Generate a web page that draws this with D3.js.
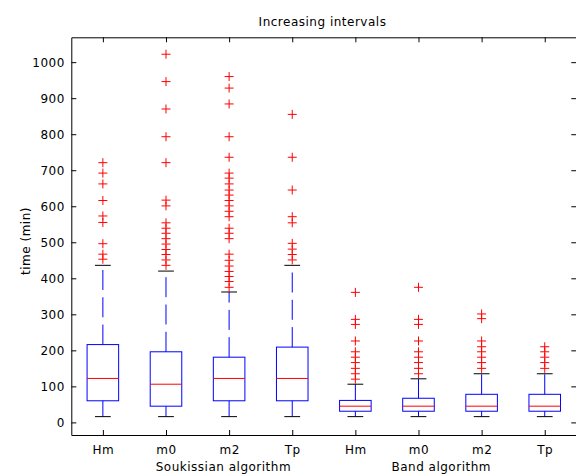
<!DOCTYPE html>
<html>
<head>
<meta charset="utf-8">
<script src="https://cdn.jsdelivr.net/npm/d3@7"></script>
<style>
  body { margin: 0; background: #fff; }
  svg { display: block; }
  text { font-family: "DejaVu Sans", sans-serif; font-size: 12px; letter-spacing: 0.5px; fill: #000; }
</style>
</head>
<body>
<svg id="chart" width="576" height="474"></svg>
<script>
// Box statistics per variable (minutes); first four from the Soukissian algorithm, last four from the Band algorithm
const categories = ["Hm", "m0", "m2", "Tp", "Hm", "m0", "m2", "Tp"];
const groupLabels = ["Soukissian algorithm", "Band algorithm"];
const lowerWhisker = [16, 16, 16, 16, 16, 16, 16, 16];
const q1 = [60, 45, 60, 60, 31, 31, 31, 31];
const medians = [122, 106, 122, 122, 45, 45, 45, 45];
const q3 = [216, 196, 181, 209, 61, 67, 78, 78];
const upperWhisker = [436, 420, 362, 436, 106, 121, 135, 135];

const outliersSkHm = [721, 692, 662, 616, 573, 555, 496, 467, 453];
const outliersSkM0 = [1022, 946, 870, 793, 721, 617, 601, 554, 539, 525, 510, 495, 480, 466, 451, 436];
const outliersSkM2 = [960, 928, 884, 793, 736, 692, 678, 662, 645, 631, 616, 601, 586, 571, 539, 525, 510, 467, 450, 434, 419, 405, 391, 375];
const outliersSkTp = [855, 736, 645, 571, 554, 497, 481, 466, 451];
const outliersBaHm = [361, 286, 272, 226, 196, 181, 166, 150, 135, 120];
const outliersBaM0 = [375, 286, 272, 226, 196, 181, 166, 150, 135];
const outliersBaM2 = [301, 288, 226, 210, 196, 181, 166, 150];
const outliersBaTp = [210, 196, 181, 166, 150];
const outliers = [outliersSkHm, outliersSkM0, outliersSkM2, outliersSkTp,
                  outliersBaHm, outliersBaM0, outliersBaM2, outliersBaTp];

const yTicks = [0, 100, 200, 300, 400, 500, 600, 700, 800, 900, 1000];

const svg = d3.select("#chart");
const plotLeft = 71.3, plotRight = 576.3, plotTop = 37.3, plotBottom = 435;
const x = d3.scaleLinear().domain([0.5, 8.5]).range([plotLeft, plotRight]);
const y = d3.scaleLinear().domain([-35, 1069]).range([plotBottom, plotTop]);
const positions = categories.map((_, i) => i + 1);

const BLUE = "#0000ff", RED = "#ff0000", INK = "#000";

// Frame with inward ticks on all four sides
function styleAxis(g) {
  g.attr("font-family", null).attr("font-size", null);
  g.selectAll(".domain").attr("stroke", INK);
  g.selectAll(".tick line").attr("stroke", INK);
  g.selectAll(".tick text").attr("fill", INK);
}
svg.append("g").attr("transform", `translate(${plotLeft},0)`)
  .call(d3.axisLeft(y).tickValues(yTicks).tickSize(-5).tickSizeOuter(0).tickPadding(6.5)
    .tickFormat(d3.format("d")))
  .call(styleAxis);
svg.append("g").attr("transform", `translate(${plotRight},0)`)
  .call(d3.axisRight(y).tickValues(yTicks).tickSize(-5).tickSizeOuter(0).tickFormat(""))
  .call(styleAxis);
svg.append("g").attr("transform", `translate(0,${plotBottom})`)
  .call(d3.axisBottom(x).tickValues(positions).tickSize(-5).tickSizeOuter(0).tickPadding(10)
    .tickFormat(d => categories[d - 1]))
  .call(styleAxis);
svg.append("g").attr("transform", `translate(0,${plotTop})`)
  .call(d3.axisTop(x).tickValues(positions).tickSize(-5).tickSizeOuter(0).tickFormat(""))
  .call(styleAxis);

// Boxes, whiskers and outliers
const boxes = svg.append("g").attr("fill", "none");
positions.forEach((p, i) => {
  const cx = x(p);
  const half = x(p + 0.25) - cx;
  const cap = x(p + 0.125) - cx;
  const g = boxes.append("g");

  // whiskers dashed, running out from the box edge
  g.append("line").attr("x1", cx).attr("x2", cx)
    .attr("y1", y(q3[i])).attr("y2", y(upperWhisker[i]))
    .attr("stroke", BLUE).attr("stroke-dasharray", "20,7.3");
  g.append("line").attr("x1", cx).attr("x2", cx)
    .attr("y1", y(q1[i])).attr("y2", y(lowerWhisker[i]))
    .attr("stroke", BLUE).attr("stroke-dasharray", "20,7.3");

  // whisker caps
  [upperWhisker[i], lowerWhisker[i]].forEach(v => {
    g.append("line").attr("x1", cx - cap).attr("x2", cx + cap)
      .attr("y1", y(v)).attr("y2", y(v)).attr("stroke", INK);
  });

  // interquartile box
  g.append("rect")
    .attr("x", cx - half).attr("width", 2 * half)
    .attr("y", y(q3[i])).attr("height", y(q1[i]) - y(q3[i]))
    .attr("stroke", BLUE);

  // median
  g.append("line").attr("x1", cx - half).attr("x2", cx + half)
    .attr("y1", y(medians[i])).attr("y2", y(medians[i])).attr("stroke", RED);

  // outliers as plus markers
  g.selectAll("path.out").data(outliers[i]).join("path")
    .attr("class", "out")
    .attr("d", "M-4.5,0H4.5M0,-4.5V4.5")
    .attr("transform", v => `translate(${cx},${y(v)})`)
    .attr("stroke", RED);
});

// Title, axis label and group labels
svg.append("text").attr("x", 322.5).attr("y", 26).attr("text-anchor", "middle")
  .text("Increasing intervals");
svg.append("text").attr("transform", "translate(30,241) rotate(-90)").attr("text-anchor", "middle")
  .text("time (min)");
const groupCentres = [2.91, 6.36];
groupLabels.forEach((t, k) => {
  svg.append("text").attr("x", x(groupCentres[k])).attr("y", 470.7).attr("text-anchor", "middle").text(t);
});
</script>
</body>
</html>
